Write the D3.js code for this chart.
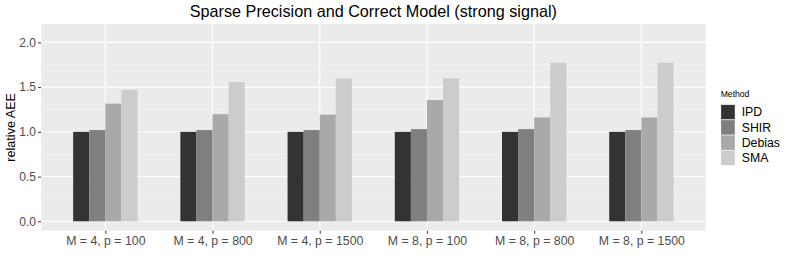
<html>
<head>
<meta charset="utf-8">
<script src="https://cdn.jsdelivr.net/npm/d3@7"></script>
<style>
body { margin: 0; background: #ffffff; }
text { font-family: "Liberation Sans", Arial, sans-serif; }
</style>
</head>
<body>
<script>
var categories = ["M = 4, p = 100", "M = 4, p = 800", "M = 4, p = 1500", "M = 8, p = 100", "M = 8, p = 800", "M = 8, p = 1500"];
var methods = ["IPD", "SHIR", "Debias", "SMA"];
var ipd = [1.00, 1.00, 1.00, 1.00, 1.00, 1.00];
var shir = [1.02, 1.02, 1.02, 1.03, 1.03, 1.02];
var debias = [1.315, 1.197, 1.192, 1.355, 1.16, 1.16];
var sma = [1.47, 1.557, 1.595, 1.598, 1.773, 1.772];
var yTicks = [0, 0.5, 1.0, 1.5, 2.0];
var yMinor = [0.25, 0.75, 1.25, 1.75];
var colors = ["#333333", "#7f7f7f", "#a9a9a9", "#cccccc"];

var series = [ipd, shir, debias, sma];
var W = 789, H = 267;
var panel = {left: 41, right: 705.7, top: 24, bottom: 230.7};

var svg = d3.select('body').append('svg')
	.attr('width', W)
	.attr('height', H);

// x: discrete with 0.6 expansion on each side
var x = d3.scaleLinear()
	.domain([0.4, categories.length + 0.6])
	.range([panel.left, panel.right]);
var y = d3.scaleLinear()
	.domain([-0.105, 2.205])
	.range([panel.bottom, panel.top]);
var inner = d3.scaleBand()
	.domain(methods)
	.range([-0.3, 0.3]);

svg.append('rect')
	.attr('x', panel.left)
	.attr('y', panel.top)
	.attr('width', panel.right - panel.left)
	.attr('height', panel.bottom - panel.top)
	.attr('fill', '#ebebeb');

svg.selectAll('line.minor')
	.data(yMinor)
	.enter().append('line')
	.attr('class', 'minor')
	.attr('x1', panel.left).attr('x2', panel.right)
	.attr('y1', function(d) { return y(d); })
	.attr('y2', function(d) { return y(d); })
	.attr('stroke', '#f7f7f7')
	.attr('stroke-width', 0.6);

svg.selectAll('line.major')
	.data(yTicks)
	.enter().append('line')
	.attr('class', 'major')
	.attr('x1', panel.left).attr('x2', panel.right)
	.attr('y1', function(d) { return y(d); })
	.attr('y2', function(d) { return y(d); })
	.attr('stroke', '#ffffff')
	.attr('stroke-width', 1.1);

svg.selectAll('line.vmajor')
	.data(categories)
	.enter().append('line')
	.attr('class', 'vmajor')
	.attr('y1', panel.top).attr('y2', panel.bottom)
	.attr('x1', function(d, i) { return x(i + 1); })
	.attr('x2', function(d, i) { return x(i + 1); })
	.attr('stroke', '#ffffff')
	.attr('stroke-width', 1.1);

// bars
for(var m = 0; m < methods.length; m++)
{
	svg.append('g').selectAll('rect')
		.data(series[m])
		.enter().append('rect')
		.attr('x', function(d, i) { return x(i + 1 + inner(methods[m])); })
		.attr('width', function() { return x(1 + inner.bandwidth()) - x(1); })
		.attr('y', function(d) { return y(d); })
		.attr('height', function(d) { return y(0) - y(d); })
		.attr('fill', colors[m]);
}

// y axis
var yAxis = svg.append('g')
	.attr('transform', 'translate(' + panel.left + ',0)')
	.call(d3.axisLeft(y).tickValues(yTicks).tickSize(3).tickPadding(2).tickFormat(d3.format('.1f')));
yAxis.select('.domain').remove();
yAxis.selectAll('line').attr('stroke', '#333333');
yAxis.selectAll('text').attr('fill', '#4d4d4d').style('font-size', '12px').style('font-family', '"Liberation Sans", Arial, sans-serif');

// x axis
var xAxis = svg.append('g')
	.attr('transform', 'translate(0,' + panel.bottom + ')')
	.call(d3.axisBottom(x).tickValues(d3.range(1, categories.length + 1)).tickSize(3).tickPadding(3)
		.tickFormat(function(d) { return categories[d - 1]; }));
xAxis.select('.domain').remove();
xAxis.selectAll('line').attr('stroke', '#333333');
xAxis.selectAll('text').attr('fill', '#4d4d4d').style('font-size', '12.3px').style('font-family', '"Liberation Sans", Arial, sans-serif');

// titles
svg.append('text')
	.attr('x', (panel.left + panel.right) / 2)
	.attr('y', 17)
	.attr('text-anchor', 'middle')
	.style('font-size', '16.2px')
	.attr('fill', '#000000')
	.text('Sparse Precision and Correct Model (strong signal)');

svg.append('text')
	.attr('transform', 'translate(15,' + ((panel.top + panel.bottom) / 2) + ') rotate(-90)')
	.attr('text-anchor', 'middle')
	.style('font-size', '12.6px')
	.attr('fill', '#000000')
	.text('relative AEE');

// legend
var legend = svg.append('g').attr('transform', 'translate(720.7,0)');
legend.append('text')
	.attr('x', 0)
	.attr('y', 97)
	.style('font-size', '8.6px')
	.attr('fill', '#000000')
	.text('Method');
var keys = legend.selectAll('g.key')
	.data(methods)
	.enter().append('g')
	.attr('class', 'key')
	.attr('transform', function(d, i) { return 'translate(0,' + (104.5 + i * 15.25) + ')'; });
keys.append('rect')
	.attr('width', 14.5)
	.attr('height', 15.25)
	.attr('fill', '#f2f2f2');
keys.append('rect')
	.attr('x', 0.4).attr('y', 0.4)
	.attr('width', 13.7)
	.attr('height', 14.45)
	.attr('fill', function(d, i) { return colors[i]; });
keys.append('text')
	.attr('x', 21)
	.attr('y', 11.8)
	.style('font-size', '12.3px')
	.attr('fill', '#000000')
	.text(function(d) { return d; });
</script>
</body>
</html>
